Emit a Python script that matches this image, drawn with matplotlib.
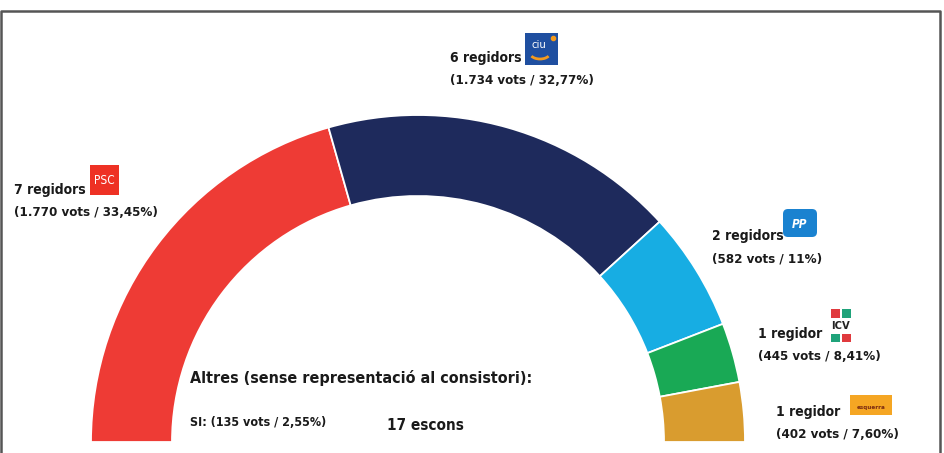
import matplotlib
matplotlib.use('Agg')
import matplotlib.pyplot as plt
from matplotlib.patches import Wedge, Rectangle, FancyBboxPatch, Arc
import numpy as np

# Resultats municipals: regidors per partit
parties = ["PSC", "CiU", "PP", "ICV", "ERC"]
seats = [7, 6, 2, 1, 1]
votes = ["1.770", "1.734", "582", "445", "402"]
pcts = ["33,45%", "32,77%", "11%", "8,41%", "7,60%"]
colors = ["#ee3b35", "#1e2a5c", "#17ade3", "#19a955", "#d99c2f"]

others_label = "Altres (sense representació al consistori):"
others_detail = "SI: (135 vots / 2,55%)"
total_label = "%d escons" % sum(seats)

plt.rcParams['font.family'] = ['DejaVu Sans']
plt.rcParams['font.stretch'] = 'condensed'
TXT = dict(fontweight='bold', color="#1a1a1a", va='center', ha='left', fontstretch='condensed')

W, H = 945, 453
fig = plt.figure(figsize=(W / 100, H / 100), dpi=100)
ax = fig.add_axes([0, 0, 1, 1])
ax.set_xlim(0, W)
ax.set_ylim(0, H)
ax.axis('off')

def py(y):
    # pixel row -> data y
    return H - y

# semicircle of seats
cx, cy = 418, py(442)
r_out, ring = 327, 81
total = sum(seats)
start = 180.0
for n, c in zip(seats, colors):
    span = 180.0 * n / total
    ax.add_patch(Wedge((cx, cy), r_out, start - span, start, width=ring,
                       facecolor=c, edgecolor='white', linewidth=1.3))
    start -= span

# frame
ax.plot([1, 1, 940, 940], [py(470), py(11), py(11), py(470)],
        color="#555555", lw=1.8, solid_capstyle='butt', clip_on=False)

# party labels
label_pos = [(14, 190), (450, 58), (712, 236), (758, 334), (776, 412)]
for i, (x, y) in enumerate(label_pos):
    word = "regidors" if seats[i] > 1 else "regidor"
    ax.text(x, py(y), "%d %s" % (seats[i], word), fontsize=10, **TXT)
    ax.text(x, py(y + 23), "(%s vots / %s)" % (votes[i], pcts[i]), fontsize=9.5, **TXT)

# PSC logo
ax.add_patch(Rectangle((90, py(195)), 29, 30, facecolor="#ee3124", edgecolor='none'))
ax.text(104.5, py(181), "PSC", fontsize=8.5, color='white', ha='center', va='center')

# CiU logo
ax.add_patch(Rectangle((525, py(65)), 33, 32, facecolor="#1f4fa0", edgecolor='none'))
ax.text(539, py(45), "ciu", fontsize=8, color='white', ha='center', va='center')
ax.add_patch(Arc((540, py(53)), 20, 12, theta1=200, theta2=340, color="#f39a1e", lw=2))
ax.plot([553], [py(38)], 'o', color="#f39a1e", ms=3)

# PP logo
ax.add_patch(FancyBboxPatch((783, py(237)), 34, 28, boxstyle="round,pad=0,rounding_size=5",
                            facecolor="#1a82d0", edgecolor='none'))
ax.text(800, py(224), "PP", fontsize=8.5, color='white', ha='center', va='center',
        fontweight='bold', style='italic')

# ICV logo
ax.add_patch(Rectangle((831, py(318)), 9, 9, facecolor="#e03a3e", edgecolor='none'))
ax.add_patch(Rectangle((842, py(318)), 9, 9, facecolor="#1fa37a", edgecolor='none'))
ax.text(841, py(326), "ICV", fontsize=8, color="#222222", ha='center', va='center',
        fontweight='bold')
ax.add_patch(Rectangle((831, py(342)), 9, 8, facecolor="#1fa37a", edgecolor='none'))
ax.add_patch(Rectangle((842, py(342)), 9, 8, facecolor="#e03a3e", edgecolor='none'))

# ERC logo
ax.add_patch(Rectangle((850, py(415)), 42, 20, facecolor="#f5a623", edgecolor='none'))
ax.text(871, py(407), "esquerra", fontsize=4.5, color="#7a2a10", ha='center', va='center',
        fontweight='bold')

# others / total
ax.text(190, py(378), others_label, fontsize=11.5, **TXT)
ax.text(190, py(423), others_detail, fontsize=9, **TXT)
ax.text(387, py(425), total_label, fontsize=11, **TXT)

fig.savefig("out.png", dpi=100)
